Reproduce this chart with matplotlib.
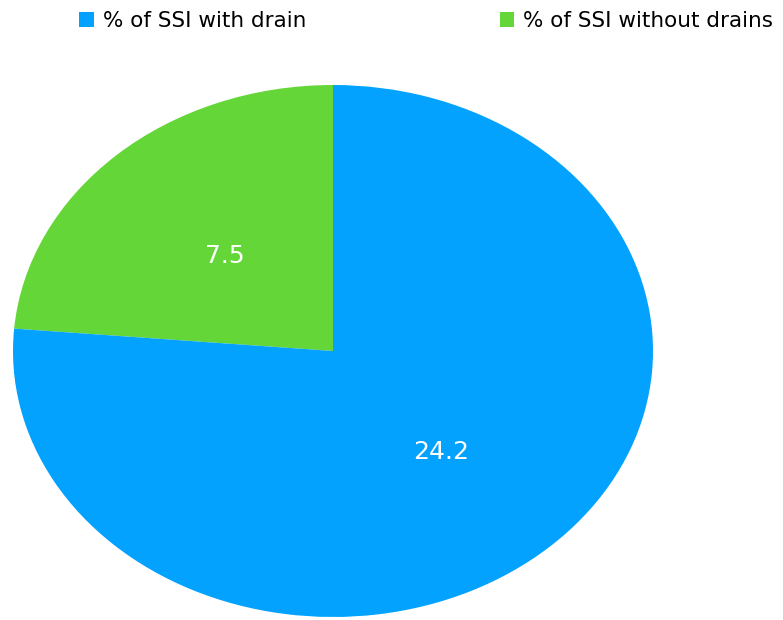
import numpy as np
import matplotlib
matplotlib.use("Agg")
import matplotlib.pyplot as plt
from matplotlib.patches import Patch

labels = ["% of SSI with drain", "% of SSI without drains"]
values = [24.2, 7.5]
colors = ["#03A2FE", "#65D638"]

plt.rcParams['font.family'] = ['DejaVu Sans']

fig = plt.figure(figsize=(7.83, 6.2), dpi=100)
# pie drawn in an axes with auto aspect so it becomes an ellipse like the source
ax = fig.add_axes([13 / 783, 3 / 620, 640 / 783, 532 / 620])

# green slice starts at top and goes counter-clockwise
wedges, _ = ax.pie(values[::-1], colors=colors[::-1], startangle=90,
                   counterclock=True, radius=1.0)
ax.set_aspect('auto')
ax.set_xlim(-1, 1)
ax.set_ylim(-1, 1)
ax.axis('off')

# value labels inside the wedges
for w, v in zip(wedges, values[::-1]):
    ang = np.deg2rad((w.theta1 + w.theta2) / 2)
    ax.text(0.5 * np.cos(ang), 0.5 * np.sin(ang) - 0.01, f"{v}", color="white",
            fontsize=18, ha="center", va="center")

handles = [Patch(facecolor=c, edgecolor='none') for c in colors]
fig.legend(handles, labels, loc='upper left', bbox_to_anchor=(79 / 783, 1 - 11 / 620),
           ncol=2, frameon=False, fontsize=15.5, handlelength=0.68,
           handleheight=0.68, handletextpad=0.42, columnspacing=9.0,
           borderpad=0, borderaxespad=0)

fig.savefig("out.png", dpi=100)
